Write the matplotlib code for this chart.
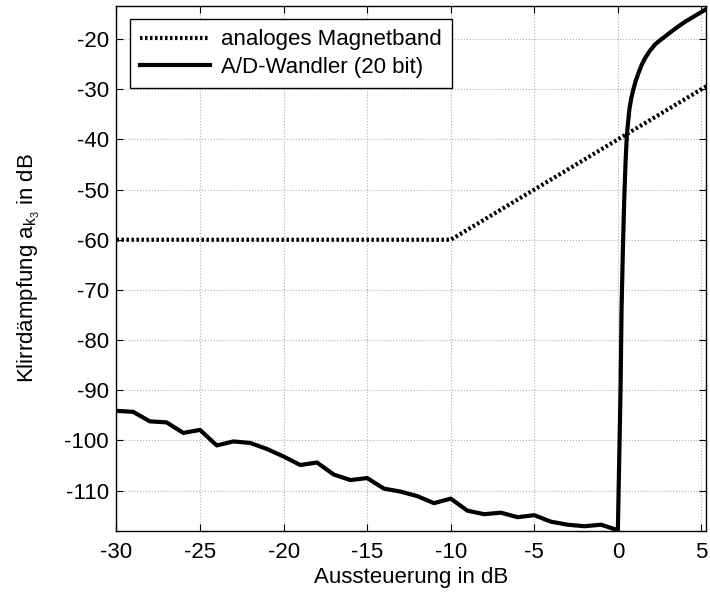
import matplotlib
matplotlib.use("Agg")
import matplotlib.pyplot as plt

plt.rcParams['font.family'] = ['Liberation Sans', 'DejaVu Sans']
plt.rcParams['axes.unicode_minus'] = False
plt.rcParams['mathtext.fontset'] = 'custom'
plt.rcParams['mathtext.rm'] = 'Liberation Sans'
plt.rcParams['mathtext.it'] = 'Liberation Sans'

# analoges Magnetband
tape_x = [-30, -10, 5.5]
tape_y = [-60, -60, -29]

# A/D-Wandler (20 bit)
ad_x = [-30, -29, -28, -27, -26, -25, -24, -23, -22, -21, -20, -19, -18, -17,
        -16, -15, -14, -13, -12, -11, -10, -9, -8, -7, -6, -5, -4, -3, -2, -1, 0,
        0.08, 0.16, 0.22, 0.3, 0.38, 0.46, 0.54, 0.69, 0.8, 0.93, 1.08, 1.23, 1.43,
        1.63, 1.9, 2.22, 2.5, 2.82, 3.2, 3.61, 4.0, 4.4, 4.85, 5.3, 5.5]
ad_y = [-94.1, -94.3, -96.2, -96.4, -98.5, -97.9, -101.0, -100.2, -100.5, -101.7,
        -103.2, -104.9, -104.4, -106.8, -107.9, -107.5, -109.6, -110.2, -111.1,
        -112.5, -111.6, -114.0, -114.7, -114.4, -115.3, -114.9, -116.2, -116.8,
        -117.1, -116.8, -117.9,
        -104, -90, -74, -62, -52, -44.5, -39.0, -34.0, -31.8, -30.0, -28.2, -26.8,
        -25.1, -23.8, -22.4, -21.1, -20.3, -19.5, -18.5, -17.5, -16.6, -15.8,
        -14.9, -14.0, -13.6]

xticks = [-30, -25, -20, -15, -10, -5, 0, 5]
yticks = [-110, -100, -90, -80, -70, -60, -50, -40, -30, -20]

fig = plt.figure(figsize=(7.10, 5.95), dpi=100)
ax = fig.add_axes([0.164, 0.108, 0.831, 0.882])

ax.plot(tape_x, tape_y, color='black', linestyle=(0, (0.6, 0.6)), linewidth=3.0,
        label='analoges Magnetband')
ax.plot(ad_x, ad_y, color='black', linestyle='-', linewidth=3.0,
        label='A/D-Wandler (20 bit)', solid_joinstyle='round')

ax.set_xlim(-30, 5.3)
ax.set_ylim(-118, -13.4)
ax.set_xticks(xticks)
ax.set_yticks(yticks)
ax.tick_params(direction='in', top=True, right=True, labelsize=16, length=5)
ax.tick_params(axis='x', pad=8)
ax.tick_params(axis='y', pad=5.5)
ax.grid(True, color='#b0b0b0', linestyle=':', linewidth=0.8)
for s in ax.spines.values():
    s.set_linewidth(1.0)

ax.set_xlabel('Aussteuerung in dB', fontsize=16, labelpad=3)
ax.set_ylabel(r'Klirrdämpfung a$_{\mathrm{k}_3}$ in dB', fontsize=16, labelpad=16)

leg = ax.legend(loc='upper left', fontsize=16, frameon=True, fancybox=False,
                edgecolor='black', framealpha=1, handlelength=3.15,
                borderaxespad=0.6, labelspacing=0.28, handletextpad=0.5,
                borderpad=0.45)
leg.get_frame().set_linewidth(1.0)

fig.savefig('out.png', dpi=100)
